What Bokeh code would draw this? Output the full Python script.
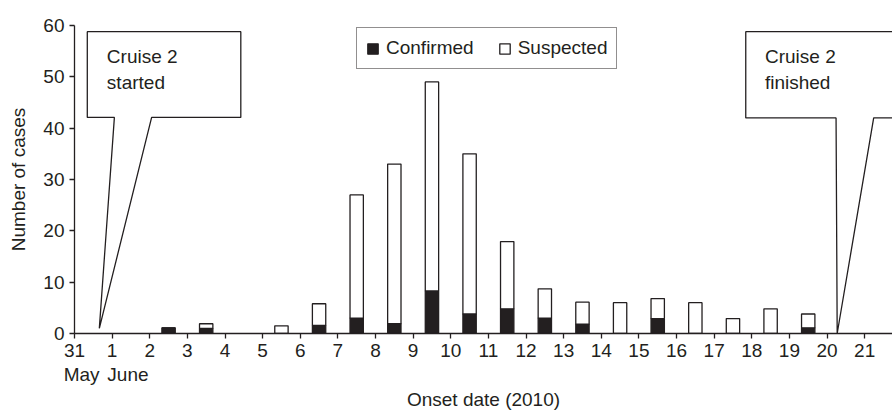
from bokeh.plotting import figure
from bokeh.models import Range1d, FixedTicker, Legend, LegendItem, ColumnDataSource, LinearAxis
from bokeh.core.properties import value
from bokeh.embed import file_html
from bokeh.resources import INLINE

# ---- data (onset dates in June 2010; May 31 = 0) ----
june_days = [2, 3, 5, 6, 7, 8, 9, 10, 11, 12, 13, 14, 15, 16, 17, 18, 19]
confirmed = [1.1, 1.0, 0, 1.6, 3.0, 1.9, 8.3, 3.8, 4.8, 3.0, 1.8, 0, 2.9, 0, 0, 0, 1.1]
suspected = [0, 0.9, 1.5, 4.2, 24.0, 31.1, 40.7, 31.2, 13.1, 5.7, 4.3, 6.0, 3.9, 6.0, 2.9, 4.8, 2.7]
x_tick_values = list(range(0, 22))
x_tick_labels = ["31"] + [str(d) for d in range(1, 22)]
y_tick_values = [0, 10, 20, 30, 40, 50, 60]
month_labels = ["May", "June"]
month_label_centers = [0.19, 1.42]

# callouts (annotation geometry in data units)
start_box = dict(x0=0.34, x1=4.42, ytop=58.8, ybot=42.1, pa=1.06, pb=2.05, tipx=0.66, tipy=1.0)
end_box = dict(x0=17.84, x1=23.0, ytop=58.8, ybot=42.0, pa=20.24, pb=21.24, tipx=20.27, tipy=0.0)
start_text = ["Cruise 2", "started"]
end_text = ["Cruise 2", "finished"]

FONT = "Liberation Sans"
INK = "#231f20"
FS = "19px"

xs = [d + 0.5 for d in june_days]
total = [c + s for c, s in zip(confirmed, suspected)]
src = ColumnDataSource(dict(x=xs, conf=confirmed, total=total))

p = figure(width=892, height=412, output_backend="svg", toolbar_location=None,
           x_range=Range1d(0, 21.74), y_range=Range1d(0, 60),
           min_border_left=74, min_border_right=0, min_border_top=25, min_border_bottom=79)

p.xgrid.visible = False
p.ygrid.visible = False
p.outline_line_color = None

# callouts
def callout(b):
    px = [b["x0"], b["x1"], b["x1"], b["pb"], b["tipx"], b["pa"], b["x0"]]
    py = [b["ytop"], b["ytop"], b["ybot"], b["ybot"], b["tipy"], b["ybot"], b["ybot"]]
    p.patch(px, py, fill_color="white", line_color=INK, line_width=1.3)

callout(start_box)
callout(end_box)

def callout_text(x, lines):
    p.text(x=[x, x], y=[54.0, 48.9], text=lines, text_font=value(FONT),
           text_font_size=value(FS), text_color=INK, text_baseline="middle", text_align="left")

callout_text(0.86, start_text)
callout_text(18.35, end_text)

# bars
W = 0.355
r_conf = p.vbar(x="x", top="conf", bottom=0, width=W, source=src,
                fill_color=INK, line_color=INK, line_width=1.3)
r_susp = p.vbar(x="x", top="total", bottom="conf", width=W, source=src,
                fill_color="white", line_color=INK, line_width=1.3)

# second (month) axis below the day axis
month_axis = LinearAxis(ticker=FixedTicker(ticks=month_label_centers),
                        major_label_overrides={v: l for v, l in zip(month_label_centers, month_labels)})
p.add_layout(month_axis, "below")

def style(ax):
    ax.axis_line_color = INK
    ax.axis_line_width = 1.3
    ax.major_tick_line_color = INK
    ax.major_tick_line_width = 1.3
    ax.major_tick_out = 5
    ax.major_tick_in = 0
    ax.minor_tick_line_color = None
    ax.major_label_text_font = FONT
    ax.major_label_text_font_size = FS
    ax.major_label_text_color = INK
    ax.axis_label_text_font = FONT
    ax.axis_label_text_font_size = FS
    ax.axis_label_text_font_style = "normal"
    ax.axis_label_text_color = INK

day_axis = p.xaxis[0]
style(day_axis)
style(p.yaxis[0])
style(month_axis)

day_axis.ticker = FixedTicker(ticks=x_tick_values)
day_axis.major_label_overrides = {v: l for v, l in zip(x_tick_values, x_tick_labels)}

month_axis.axis_line_color = None
month_axis.major_tick_line_color = None
month_axis.major_tick_out = 0
month_axis.major_label_standoff = 4
month_axis.axis_label = "Onset date (2010)"
month_axis.axis_label_standoff = 1

p.yaxis.ticker = FixedTicker(ticks=y_tick_values)
p.yaxis.axis_label = "Number of cases"
p.yaxis.axis_label_standoff = 11

legend = Legend(items=[LegendItem(label="Confirmed", renderers=[r_conf]),
                       LegendItem(label="Suspected", renderers=[r_susp])],
                orientation="horizontal", location=(282, 264),
                glyph_width=13, glyph_height=13, label_standoff=7, spacing=24,
                padding=9, margin=0, label_height=19,
                label_text_font=FONT, label_text_font_size=FS, label_text_color=INK,
                border_line_color=INK, border_line_width=1.3,
                background_fill_color="white", background_fill_alpha=1.0)
p.add_layout(legend)

open("out.html", "w").write(file_html(p, INLINE))
